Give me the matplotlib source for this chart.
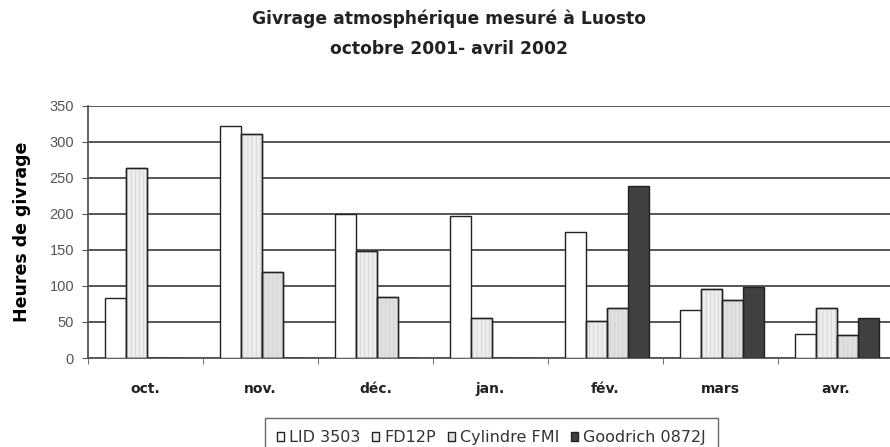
import matplotlib
matplotlib.use("Agg")
import matplotlib.pyplot as plt
import numpy as np

plt.rcParams['font.family'] = ['DejaVu Sans']
plt.rcParams['hatch.linewidth'] = 0.5

months = ["oct.", "nov.", "déc.", "jan.", "fév.", "mars", "avr."]
series_names = ["LID 3503", "FD12P", "Cylindre FMI", "Goodrich 0872J"]
lid = [83, 321, 200, 197, 174, 66, 33]
fd12p = [263, 311, 148, 55, 51, 95, 70]
cylindre = [0, 119, 84, 0, 70, 81, 32]
goodrich = [0, 0, 0, 0, 239, 98, 56]
yticks = [0, 50, 100, 150, 200, 250, 300, 350]

colors = ["#ffffff", "#ededed", "#e0e0e0", "#404040"]
hatches = [None, "||||", "||||", None]

fig = plt.figure(figsize=(8.9, 4.47), dpi=100)
ax = fig.add_axes([88/890, 89/447, 805/890, 252.5/447])

x = np.arange(len(months))
w = 0.183
data = [lid, fd12p, cylindre, goodrich]
for i, (vals, name) in enumerate(zip(data, series_names)):
    pos = x + (i - 1.5) * w + 0.015
    ax.bar(pos, vals, width=w, color=colors[i],
           edgecolor="#222222", linewidth=1.0, label=name, zorder=3)
    if hatches[i]:
        ax.bar(pos, vals, width=w, color="none", hatch=hatches[i],
               edgecolor="#cfcfcf", linewidth=0, zorder=3.5)
        ax.bar(pos, vals, width=w, color="none",
               edgecolor="#222222", linewidth=1.0, zorder=3.6)

ax.set_ylim(0, 350)
ax.set_xlim(-0.5, len(months) - 0.5)
ax.set_yticks(yticks)
ax.set_yticklabels([str(v) for v in yticks], fontsize=10.5, color="#555555",
                   family=['Liberation Sans', 'DejaVu Sans'])
for v in yticks:
    ax.axhline(v, color="#555555", linewidth=1.4, zorder=1)

ax.set_xticks(x)
ax.set_xticklabels(months, fontsize=10, fontweight="bold", color="#222222")
ax.tick_params(axis="x", length=0, pad=17)
ax.set_xticks(np.arange(-0.5, len(months), 1), minor=True)
ax.tick_params(axis="x", which="minor", length=4, color="#555555", direction="out")
ax.tick_params(axis="y", length=4, color="#555555", direction="out", pad=6)

for s in ["top", "right"]:
    ax.spines[s].set_visible(False)
ax.spines["left"].set_color("#555555")
ax.spines["bottom"].set_color("#555555")
ax.spines["left"].set_linewidth(1.3)
ax.spines["bottom"].set_linewidth(1.3)

ax.set_ylabel("Heures de givrage", fontsize=12.5, fontweight="bold")
ax.yaxis.set_label_coords(-(88-31)/805, 0.5)

fig.text(0.505, 1 - 19/447, "Givrage atmosphérique mesuré à Luosto", ha="center",
         va="center", fontsize=12.3, fontweight="bold", color="#222222")
fig.text(0.505, 1 - 49/447, "octobre 2001- avril 2002", ha="center",
         va="center", fontsize=12.3, fontweight="bold", color="#222222")

leg = ax.legend(loc="upper center", bbox_to_anchor=(0.501, -(418-358)/252.5),
                ncol=4, fontsize=11.5, frameon=True, fancybox=False,
                edgecolor="#444444", handlelength=0.45, handleheight=0.45,
                handletextpad=0.3, columnspacing=0.75, borderpad=0.75,
                borderaxespad=0)
leg.get_frame().set_linewidth(1.0)
for t in leg.get_texts():
    t.set_color("#333333")

fig.savefig("out.png", dpi=100)
